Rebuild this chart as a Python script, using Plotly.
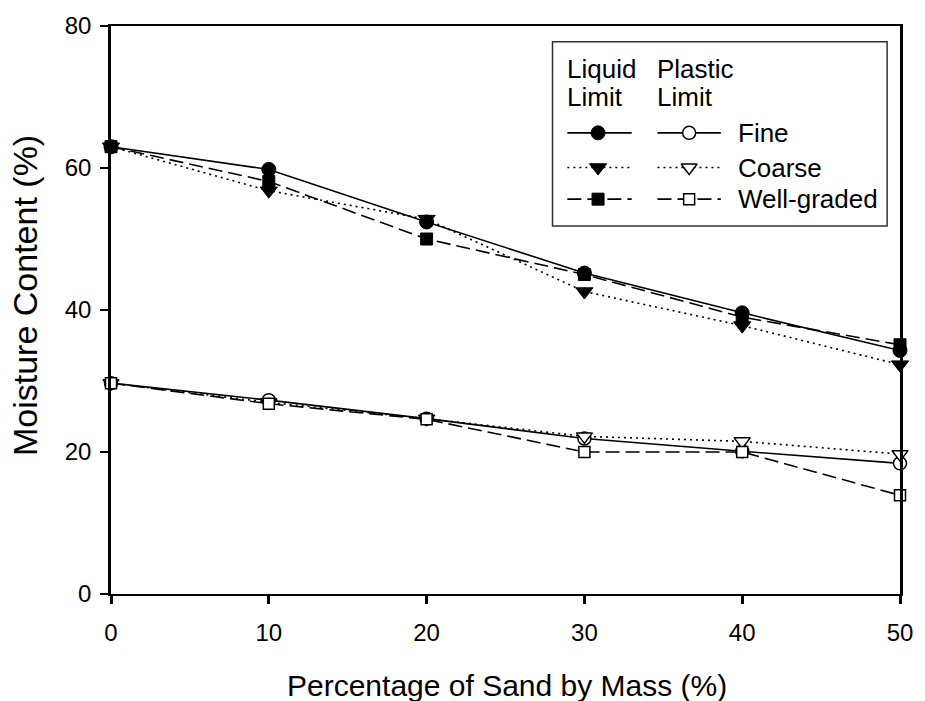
import plotly.graph_objects as go

# ---------------- data ----------------
sand_pct = [0, 10, 20, 30, 40, 50]

ll_fine = [63.0, 59.8, 52.4, 45.2, 39.6, 34.3]
ll_coarse = [63.0, 56.8, 52.8, 42.6, 37.8, 32.3]
ll_well = [63.0, 58.1, 50.0, 45.0, 39.0, 35.1]

pl_fine = [29.7, 27.3, 24.7, 21.9, 20.1, 18.4]
pl_coarse = [29.7, 27.0, 24.7, 22.2, 21.5, 19.7]
pl_well = [29.7, 26.8, 24.6, 20.0, 20.0, 13.9]

series_names = ["Fine", "Coarse", "Well-graded"]
x_ticks = [0, 10, 20, 30, 40, 50]
y_ticks = [0, 20, 40, 60, 80]

x_title = "Percentage of Sand by Mass (%)"
y_title = "Moisture Content (%)"
legend_heads = ["Liquid", "Limit", "Plastic", "Limit"]

# ---------------- layout constants ----------------
W, H = 925, 701
L, R, T, B = 111, 908, 20, 594
FONT = "Liberation Sans, Arial, sans-serif"


def fx(px):
    return (px - L) / (R - L)


def fy(py):
    return (B - py) / (B - T)


styles = [
    dict(dash="solid", sym="circle", size=14),
    dict(dash="2px,4px", sym="triangle-down", size=15),
    dict(dash="14px,6px", sym="square", size=12),
]

fig = go.Figure()

ll_all = [ll_fine, ll_coarse, ll_well]
pl_all = [pl_fine, pl_coarse, pl_well]

for vals, st, name in zip(ll_all, styles, series_names):
    fig.add_trace(go.Scatter(
        x=sand_pct, y=vals, mode="lines+markers", name="LL " + name,
        line=dict(color="black", width=1.6, dash=st["dash"]),
        marker=dict(symbol=st["sym"], size=st["size"], color="black",
                    line=dict(color="black", width=1)),
        showlegend=False, cliponaxis=False,
    ))

for vals, st, name in zip(pl_all, styles, series_names):
    fig.add_trace(go.Scatter(
        x=sand_pct, y=vals, mode="lines+markers", name="PL " + name,
        line=dict(color="black", width=1.6, dash=st["dash"]),
        marker=dict(symbol=st["sym"], size=st["size"] - 1,
                    color="white", line=dict(color="black", width=1.5)),
        showlegend=False, cliponaxis=False,
    ))

# ---------------- custom two-column legend ----------------
row_y = [128, 163, 195]
ll_seg = (572, 637, 603)
pl_seg = (663, 727, 695)

for st, ry in zip(styles, row_y):
    for seg, filled in ((ll_seg, True), (pl_seg, False)):
        fig.add_trace(go.Scatter(
            x=[fx(seg[0]), fx(seg[1])], y=[fy(ry), fy(ry)], mode="lines",
            xaxis="x2", yaxis="y2", showlegend=False, hoverinfo="skip",
            line=dict(color="black", width=1.6, dash=st["dash"]),
        ))
        fig.add_trace(go.Scatter(
            x=[fx(seg[2])], y=[fy(ry)], mode="markers",
            xaxis="x2", yaxis="y2", showlegend=False, hoverinfo="skip",
            marker=dict(symbol=st["sym"], size=st["size"] if filled else st["size"] - 1,
                        color="black" if filled else "white",
                        line=dict(color="black", width=1 if filled else 1.5)),
        ))

annotations = []
for name, ry in zip(series_names, row_y):
    annotations.append(dict(
        x=fx(742), y=fy(ry), xref="paper", yref="paper", text=name,
        showarrow=False, xanchor="left", yanchor="middle",
        font=dict(family=FONT, size=26, color="black"),
    ))
head_pos = [(572, 63), (572, 92), (663, 63), (663, 92)]
for txt, (hx, hy) in zip(legend_heads, head_pos):
    annotations.append(dict(
        x=fx(hx), y=fy(hy), xref="paper", yref="paper", text=txt,
        showarrow=False, xanchor="left", yanchor="middle", xshift=-2,
        font=dict(family=FONT, size=26, color="black"),
    ))

annotations.append(dict(
    x=fx(511), y=fy(686), xref="paper", yref="paper", text=x_title,
    showarrow=False, xanchor="center", yanchor="middle",
    font=dict(family=FONT, size=30, color="black"),
))
annotations.append(dict(
    x=fx(24), y=fy(292), xref="paper", yref="paper", text=y_title,
    showarrow=False, xanchor="center", yanchor="middle", textangle=-90,
    font=dict(family=FONT, size=34, color="black"),
))

shapes = [dict(
    type="rect", xref="paper", yref="paper",
    x0=fx(557), x1=fx(895), y0=fy(222), y1=fy(36),
    line=dict(color="#333333", width=1.5), fillcolor="white", layer="below",
)]

fig.update_layout(
    width=W, height=H,
    margin=dict(l=L, r=W - R, t=T, b=H - B),
    paper_bgcolor="white", plot_bgcolor="white",
    font=dict(family=FONT, color="black"),
    annotations=annotations, shapes=shapes,
    xaxis=dict(
        range=[0, 50], tickvals=x_ticks, ticks="outside", ticklen=8, tickwidth=2.5,
        tickcolor="black", showline=True, linecolor="black", linewidth=1.5,
        mirror=True, showgrid=False, zeroline=False, ticklabelstandoff=8,
        tickfont=dict(family=FONT, size=24, color="black"),
    ),
    yaxis=dict(
        range=[0, 80], tickvals=y_ticks, ticks="outside", ticklen=8, tickwidth=1.5,
        tickcolor="black", showline=True, linecolor="black", linewidth=2.5,
        mirror=True, showgrid=False, zeroline=False, ticklabelstandoff=4,
        tickfont=dict(family=FONT, size=24, color="black"),
    ),
    xaxis2=dict(range=[0, 1], overlaying="x", anchor="y2", visible=False,
                domain=[0, 1], fixedrange=True),
    yaxis2=dict(range=[0, 1], overlaying="y", anchor="x2", visible=False,
                domain=[0, 1], fixedrange=True),
)

fig.write_html(
    "out.html",
    config={"displayModeBar": False},
    post_script="document.body.style.margin='0';document.body.style.overflow='hidden';",
)
